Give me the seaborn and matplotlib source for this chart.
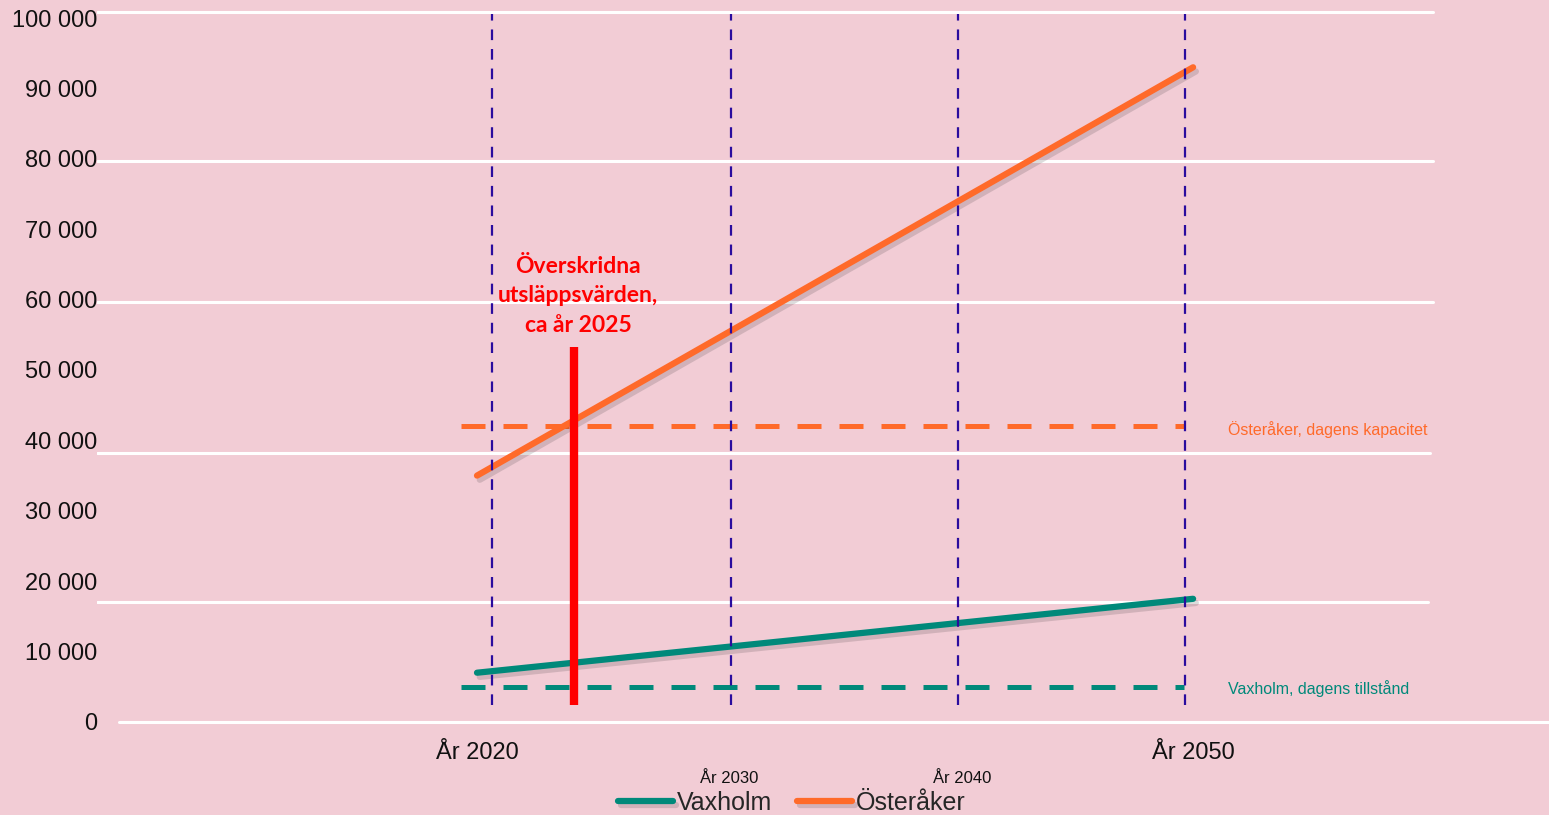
"""Prognos för avloppsbelastning, Vaxholm och Österåker, år 2020-2050."""
import matplotlib
matplotlib.use("Agg")
import matplotlib.pyplot as plt
import matplotlib.patheffects as pe
import pandas as pd
import seaborn as sns

# data
years = [2020, 2050]
vaxholm = [7000, 17500]
osteraker = [35000, 93000]
kommuner = ["Vaxholm", "Österåker"]
kapacitet_vaxholm = 5000
kapacitet_osteraker = 42000
kapacitet_span = (2019.35, 2049.6)
decade_lines = [2020.63, 2030.64, 2040.15, 2049.66]
minor_years = [2030.56, 2040.32]
minor_labels = ["År 2030", "År 2040"]
overskridet_ar = 2024.06
overskridet_span = (2400, 53300)
grid_values = [0, 17000, 38200, 59700, 79700, 100800]
grid_extent = [(0.015, 1.0), (0.0, 0.9166), (0.0, 0.918), (0.0, 0.92),
               (0.0, 0.92), (0.0, 0.92)]
yticks = list(range(0, 100001, 10000))

BG = "#F2CCD5"
ORANGE = "#FF6A2A"
TEAL = "#00897A"
INDIGO = "#2A0C9E"
RED = "#FF0000"

sns.set_theme(style="white")
plt.rcParams["font.family"] = ["Liberation Sans", "DejaVu Sans"]

fig = plt.figure(figsize=(15.49, 8.15), dpi=100, facecolor=BG)
ax = fig.add_axes([97 / 1549, 80 / 815, 1452 / 1549, 735 / 815])
ax.set_facecolor(BG)

df = pd.DataFrame({
    "year": years * 2,
    "value": vaxholm + osteraker,
    "kommun": [kommuner[0]] * 2 + [kommuner[1]] * 2,
})

# white gridlines (offset from the tick labels, as in the original)
for val, (x0, x1) in zip(grid_values, grid_extent):
    ax.axhline(val, xmin=x0, xmax=x1, color="white", lw=2.2, zorder=1)

# today's capacity
dash = (0, (4.8, 3.6))
ax.hlines(kapacitet_osteraker, *kapacitet_span, color=ORANGE, lw=3.6,
          linestyle=dash, zorder=2)
ax.hlines(kapacitet_vaxholm, *kapacitet_span, color=TEAL, lw=3.6,
          linestyle=dash, zorder=2)

n_before = len(ax.get_lines())
sns.lineplot(data=df, x="year", y="value", hue="kommun",
             palette={"Vaxholm": TEAL, "Österåker": ORANGE},
             linewidth=4.5, solid_capstyle="round", ax=ax, zorder=3)
for line in ax.get_lines()[n_before:]:
    line.set_path_effects([pe.SimpleLineShadow(offset=(2, -3), alpha=0.15),
                           pe.Normal()])

ax.vlines(decade_lines, 2400, 100500, color=INDIGO, lw=1.6,
          linestyle=(0, (4.8, 4)), zorder=4)
ax.vlines(overskridet_ar, *overskridet_span, color=RED, lw=6, zorder=5)

ax.text(overskridet_ar + 0.17, 66200,
        "Överskridna\nutsläppsvärden,\nca år 2025",
        ha="center", va="top", color=RED, fontsize=16.5, fontweight="bold",
        family=["Lato", "DejaVu Sans"], linespacing=1.5, zorder=6)

ax.text(2051.46, kapacitet_osteraker - 400, "Österåker, dagens kapacitet",
        color=ORANGE, fontsize=11.5, va="center", ha="left")
ax.text(2051.46, kapacitet_vaxholm - 200, "Vaxholm, dagens tillstånd",
        color=TEAL, fontsize=11.5, va="center", ha="left")

ax.set_xlim(2004.08, 2064.91)
ax.set_ylim(-1847, 102557)
ax.set_yticks(yticks)
ax.set_yticklabels([f"{v:,}".replace(",", " ") for v in yticks])
ax.set_xticks(years)
ax.set_xticklabels([f"År {y}" for y in years])
ax.set_xticks(minor_years, minor=True)
ax.set_xticklabels(minor_labels, minor=True)
ax.tick_params(axis="y", length=0, pad=0, labelsize=17, labelcolor="#111111")
ax.tick_params(axis="x", which="major", length=0, pad=5, labelsize=17,
               labelcolor="#111111")
ax.tick_params(axis="x", which="minor", length=0, pad=26, labelsize=12,
               labelcolor="#111111")
ax.set_xlabel("")
ax.set_ylabel("")
sns.despine(ax=ax, left=True, bottom=True)
ax.grid(False)

handles, labels = ax.get_legend_handles_labels()
ax.get_legend().remove()
leg = fig.legend(handles, labels, loc="center", bbox_to_anchor=(0.511, 0.015),
                 ncol=2, frameon=False, fontsize=18, handlelength=2.2,
                 handletextpad=0.15, columnspacing=1.0, borderpad=0)

fig.savefig("out.png", dpi=100, facecolor=BG)
plt.close(fig)
